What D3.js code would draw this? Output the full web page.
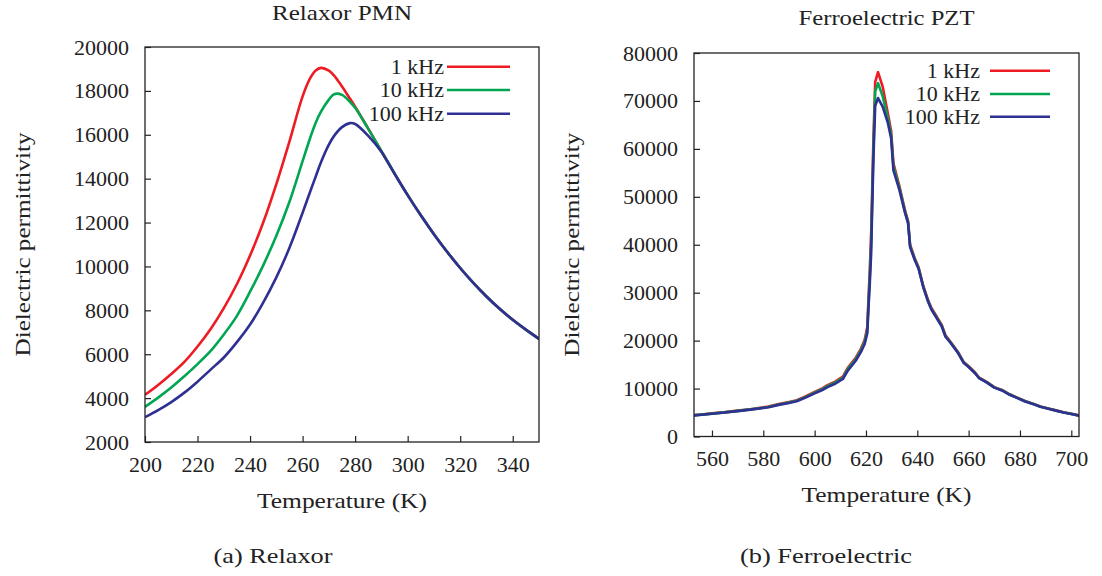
<!DOCTYPE html>
<html>
<head>
<meta charset="utf-8">
<script src="https://cdn.jsdelivr.net/npm/d3@7"></script>
<style>
  body { margin: 0; background: #fff; }
</style>
</head>
<body>
<div id="plot"></div>
<script>
// Relaxor PMN (left panel)
const relaxorTemps = [200, 205, 210, 215, 220, 225, 230, 235, 240, 245, 250, 255, 260, 263, 265, 267, 270, 272, 275, 278, 280, 285, 290, 295, 300, 305, 310, 315, 320, 325, 330, 335, 340, 345, 350];
const relaxor1k = [4150, 4600, 5100, 5650, 6350, 7150, 8100, 9200, 10500, 12000, 13750, 15700, 17750, 18600, 18930, 19050, 18920, 18700, 18200, 17650, 17280, 16280, 15250, 14230, 13250, 12330, 11470, 10670, 9930, 9250, 8630, 8070, 7570, 7120, 6700];
const relaxor10k = [3600, 4020, 4480, 5000, 5550, 6150, 6900, 7750, 8850, 10050, 11400, 12950, 14800, 15900, 16550, 17050, 17600, 17850, 17820, 17500, 17230, 16270, 15250, 14230, 13250, 12330, 11470, 10670, 9930, 9250, 8630, 8070, 7570, 7120, 6700];
const relaxor100k = [3130, 3450, 3820, 4250, 4750, 5300, 5850, 6550, 7350, 8350, 9500, 10850, 12450, 13450, 14100, 14750, 15550, 15950, 16350, 16530, 16490, 15950, 15230, 14230, 13250, 12330, 11470, 10670, 9930, 9250, 8630, 8070, 7570, 7120, 6700];

// Ferroelectric PZT (right panel)
const pztTemps = [553, 556, 560, 565, 570, 575, 580, 582, 586, 590, 593, 596, 600, 603, 605, 608, 611, 613, 616, 618, 619.5, 620.5, 621, 621.5, 622, 622.9, 623.6, 624.7, 626.5, 628.5, 629.8, 630.7, 633, 635.3, 636.4, 637.2, 639, 640.5, 642.4, 644.3, 645.5, 647, 649.5, 651, 653, 656, 658, 660, 662.5, 664, 667, 670, 673, 676, 679, 682, 685, 688, 691, 694, 697, 700, 703];
const pzt1k = [4450, 4600, 4820, 5080, 5400, 5700, 6080, 6250, 6780, 7200, 7550, 8250, 9300, 10050, 10700, 11450, 12500, 14400, 16400, 18300, 20200, 22800, 29000, 35000, 42000, 62000, 74000, 76000, 73000, 67500, 63800, 57000, 52300, 47000, 45000, 40000, 37200, 35300, 31300, 28300, 26800, 25500, 23300, 21100, 19700, 17500, 15600, 14650, 13350, 12350, 11400, 10300, 9700, 8800, 8100, 7400, 6850, 6250, 5850, 5450, 5050, 4750, 4400];
const pzt10k = [4420, 4570, 4780, 5040, 5350, 5650, 6010, 6170, 6690, 7100, 7450, 8120, 9150, 9870, 10500, 11220, 12250, 14100, 16100, 17950, 19750, 22100, 28000, 33500, 40000, 60000, 72000, 73700, 71000, 66500, 63000, 56300, 51900, 46700, 44700, 39700, 37000, 35100, 31100, 28100, 26600, 25300, 23100, 20900, 19600, 17400, 15500, 14550, 13250, 12250, 11350, 10250, 9650, 8750, 8050, 7350, 6820, 6220, 5820, 5420, 5020, 4720, 4370];
const pzt100k = [4400, 4550, 4750, 5000, 5300, 5600, 5950, 6100, 6600, 7000, 7350, 8000, 9000, 9700, 10300, 11000, 12000, 13800, 15800, 17600, 19300, 21500, 27000, 32000, 38000, 58000, 69000, 70600, 68800, 65500, 62200, 55500, 51500, 46500, 44500, 39500, 36800, 35000, 31000, 28000, 26500, 25200, 23000, 20800, 19500, 17300, 15400, 14500, 13200, 12200, 11300, 10200, 9600, 8700, 8000, 7300, 6800, 6200, 5800, 5400, 5000, 4700, 4350];

const seriesNames = ["1 kHz", "10 kHz", "100 kHz"];
const seriesColors = ["#ed1c24", "#00a651", "#2e3192"];

const relaxorXTicks = [200, 220, 240, 260, 280, 300, 320, 340];
const relaxorYTicks = [2000, 4000, 6000, 8000, 10000, 12000, 14000, 16000, 18000, 20000];
const pztXTicks = [560, 580, 600, 620, 640, 660, 680, 700];
const pztYTicks = [0, 10000, 20000, 30000, 40000, 50000, 60000, 70000, 80000];

const serif = "'Liberation Serif', 'DejaVu Serif', serif";

const svg = d3.select("#plot")
    .append("svg")
    .attr("width", 1102)
    .attr("height", 576)
    .attr("font-family", serif);

// text helper; width widens Times glyphs toward the Computer Modern look
function label(g, x, y, txt, anchor, width) {
    const t = g.append("text")
        .attr("x", x).attr("y", y)
        .attr("text-anchor", anchor || "middle")
        .attr("font-family", serif)
        .attr("font-size", 22)
        .attr("fill", "#222")
        .text(txt);
    if (width) t.attr("textLength", width).attr("lengthAdjust", "spacingAndGlyphs");
    return t;
}

function drawPanel(p) {
    const x = d3.scaleLinear().domain(p.xDomain).range([p.left, p.right]);
    const y = d3.scaleLinear().domain(p.yDomain).range([p.bottom, p.top]);
    const g = svg.append("g");

    // clip so lines stop at the frame
    g.append("clipPath").attr("id", p.id + "clip")
        .append("rect")
        .attr("x", p.left).attr("y", p.top)
        .attr("width", p.right - p.left).attr("height", p.bottom - p.top);

    // axes (ticks point inward, no mirror)
    const xAxis = g.append("g")
        .attr("transform", "translate(0," + p.bottom + ")")
        .call(d3.axisBottom(x).tickValues(p.xTicks).tickSizeInner(-6).tickSizeOuter(0).tickPadding(14).tickFormat(d3.format("d")));
    const yAxis = g.append("g")
        .attr("transform", "translate(" + p.left + ",0)")
        .call(d3.axisLeft(y).tickValues(p.yTicks).tickSizeInner(-6).tickSizeOuter(0).tickPadding(16).tickFormat(d3.format("d")));
    [xAxis, yAxis].forEach(a => {
        a.attr("font-family", serif).attr("font-size", 22);
        a.select(".domain").remove();
        a.selectAll("line").attr("stroke", "#222").attr("stroke-width", 1.2);
        a.selectAll("text").attr("fill", "#222");
    });

    // lines
    const line = d3.line()
        .x((d, i) => x(p.temps[i]))
        .y(d => y(d))
        .curve(p.curve);
    g.append("g").attr("clip-path", "url(#" + p.id + "clip)")
        .selectAll("path.series").data(p.series).enter().append("path")
        .attr("class", "series")
        .attr("d", d => line(d))
        .attr("fill", "none")
        .attr("stroke", (d, i) => seriesColors[i])
        .attr("stroke-width", 2.6)
        .attr("stroke-linejoin", "round");

    // frame
    g.append("rect")
        .attr("x", p.left).attr("y", p.top)
        .attr("width", p.right - p.left).attr("height", p.bottom - p.top)
        .attr("fill", "none")
        .attr("stroke", "#222")
        .attr("stroke-width", 1.3);

    // legend
    seriesNames.forEach((name, i) => {
        label(g, p.legendText, p.legendRows[i], name, "end").attr("dy", "0.33em");
        g.append("line")
            .attr("x1", p.legendLine[0]).attr("x2", p.legendLine[1])
            .attr("y1", p.legendRows[i]).attr("y2", p.legendRows[i])
            .attr("stroke", seriesColors[i])
            .attr("stroke-width", 2.6);
    });

    // titles and labels
    const mid = (p.left + p.right) / 2;
    label(g, mid, p.titleY, p.title, "middle", p.titleW).attr("font-size", 21);
    label(g, mid, p.xLabelY, "Temperature (K)", "middle", 170);
    label(g, 0, 0, "Dielectric permittivity", "middle", 224)
        .attr("transform", "translate(" + p.yLabelX + "," + (p.top + p.bottom) / 2 + ") rotate(-90)");
    label(g, p.captionX, 563, p.caption, "middle", p.captionW);
}

drawPanel({
    id: "relaxor",
    left: 145, right: 539, top: 47, bottom: 442,
    xDomain: [200, 350], yDomain: [2000, 20000],
    xTicks: relaxorXTicks, yTicks: relaxorYTicks,
    temps: relaxorTemps,
    series: [relaxor1k, relaxor10k, relaxor100k],
    curve: d3.curveCatmullRom.alpha(0.5),
    legendRows: [66.7, 90, 113.7], legendText: 444, legendLine: [447, 510],
    title: "Relaxor PMN", titleY: 20, titleW: 140,
    xLabelY: 508, yLabelX: 30,
    caption: "(a) Relaxor", captionX: 273, captionW: 119
});

drawPanel({
    id: "pzt",
    left: 694, right: 1079, top: 53, bottom: 436.5,
    xDomain: [553, 703], yDomain: [0, 80000],
    xTicks: pztXTicks, yTicks: pztYTicks,
    temps: pztTemps,
    series: [pzt1k, pzt10k, pzt100k],
    curve: d3.curveLinear,
    legendRows: [70.7, 94, 116.7], legendText: 980, legendLine: [990, 1050],
    title: "Ferroelectric PZT", titleY: 25, titleW: 176,
    xLabelY: 502, yLabelX: 579,
    caption: "(b) Ferroelectric", captionX: 826, captionW: 172
});
</script>
</body>
</html>
